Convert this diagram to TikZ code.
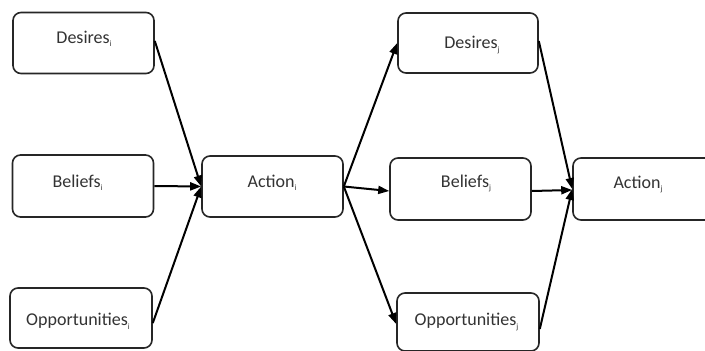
\documentclass[tikz,border=0pt]{standalone}
\usepackage{fontspec}
\setmainfont{Carlito}
\usetikzlibrary{arrows.meta}
\newcommand{\sbs}[1]{\raisebox{-3.5pt}{\fontsize{8}{8}\selectfont #1}}
\begin{document}
\begin{tikzpicture}[x=1pt,y=-1pt,
  box/.style={draw=black!85, line width=1.6pt, rounded corners=8pt,
    minimum width=141pt, minimum height=61pt, inner sep=0pt},
  lbl/.style={anchor=base, inner sep=0pt, font=\fontsize{18}{20}\selectfont, text=black!80},
  conn/.style={draw=black, line width=2pt, -{Triangle[length=11pt,width=8pt]}}]
\useasboundingbox (0,0) rectangle (705,351);
\clip (0,0) rectangle (705,351);
\fill[white] (0,0) rectangle (705,351);
% boxes
\node[box] (di) at (83.5,43) {};
\node[box, minimum height=62pt] (bi) at (83,186) {};
\node[box, minimum width=142pt, minimum height=60pt] (oi) at (81,318) {};
\node[box] (ai) at (272.5,186.5) {};
\node[box, minimum width=140pt, minimum height=60pt] (dj) at (468,43) {};
\node[box, minimum height=62pt] (bj) at (460.5,189) {};
\node[box, minimum width=142pt, minimum height=58pt] (oj) at (468,322) {};
\node[box, minimum height=62pt] (aj) at (643.5,189) {};
% labels
\node[lbl] (tdi) at (84,43) {Desires\sbs{i}};
\node[lbl] (tbi) at (77.5,187) {Beliefs\sbs{i}};
\node[lbl] (toi) at (78,325.5) {Opportunities\sbs{i}};
\node[lbl] (tai) at (272,187) {Action\sbs{i}};
\node[lbl] (tdj) at (472,48.5) {Desires\sbs{j}};
\node[lbl] (tbj) at (466,187) {Beliefs\sbs{j}};
\node[lbl] (toj) at (466.5,325.5) {Opportunities\sbs{j}};
\node[lbl] (taj) at (638,188) {Action\sbs{j}};
% connectors
\draw[conn] ([yshift=2pt]di.east) -- (ai.west);
\draw[conn] (bi.east) -- (ai.west);
\draw[conn] ([yshift=-5pt]oi.east) -- (ai.west);
\draw[conn] (ai.east) -- (dj.west);
\draw[conn] (ai.east) -- ([yshift=-2pt]bj.west);
\draw[conn] (ai.east) -- ([yshift=-2pt]oj.west);
\draw[conn] ([yshift=2pt]dj.east) -- (aj.west);
\draw[conn] ([yshift=-2pt]bj.east) -- ([yshift=-1pt]aj.west);
\draw[conn] ([yshift=-7pt]oj.east) -- (aj.west);
\end{tikzpicture}
\end{document}
